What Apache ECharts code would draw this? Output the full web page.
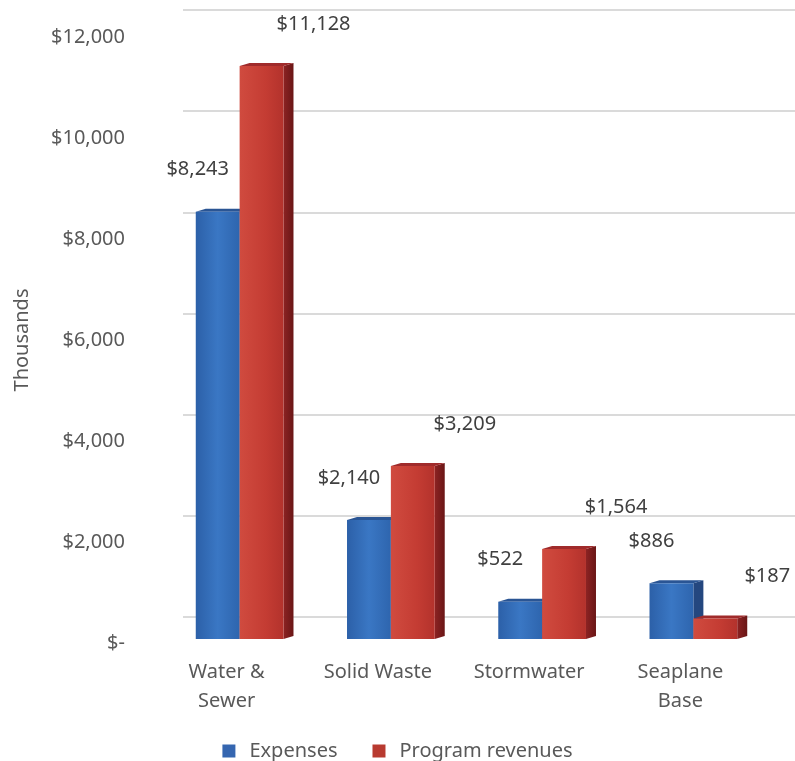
<!DOCTYPE html>
<html>
<head>
<meta charset="utf-8">
<script src="https://cdn.jsdelivr.net/npm/echarts@6/dist/echarts.min.js"></script>
<style>
  html, body { margin: 0; padding: 0; background: #fff; }
  #chart { width: 795px; height: 761px; }
</style>
</head>
<body>
<div id="chart"></div>
<script>
const categories = ['Water &\nSewer', 'Solid Waste', 'Stormwater', 'Seaplane\nBase'];
const expenses = [8243, 2140, 522, 886];
const revenues = [11128, 3209, 1564, 187];
const seriesNames = ['Expenses', 'Program revenues'];

const FONT = '"Noto Sans", sans-serif';
const TEXT = '#595959';
// 3D look: bar tops sit above the axis scale (perspective), faces offset by depth
const LIFT = 18, DX = 10, DY = 3;

const faces = [
  {
    front: new echarts.graphic.LinearGradient(0, 0, 1, 0, [
      { offset: 0, color: '#2c60a8' }, { offset: 0.5, color: '#3a77c4' }, { offset: 1, color: '#2e65ae' }]),
    side: '#24477f', top: '#2a5594'
  },
  {
    front: new echarts.graphic.LinearGradient(0, 0, 1, 0, [
      { offset: 0, color: '#d04b3f' }, { offset: 0.6, color: '#c43c33' }, { offset: 1, color: '#b3322c' }]),
    side: new echarts.graphic.LinearGradient(0, 0, 1, 0, [
      { offset: 0, color: '#8c2323' }, { offset: 1, color: '#6a1616' }]),
    top: '#a02b2b'
  }
];

const fmt = (v) => '$' + v.toLocaleString('en-US');

function renderBar(params, api) {
  const i = api.value(0);
  const v = api.value(1);
  const s = params.seriesIndex;
  const c = api.coord([i, v]);
  const c0 = api.coord([i, 0]);
  const band = api.size([1, 0])[0];
  const w = band * 0.29;
  const x0 = s === 1 ? c[0] : c[0] - w;
  const x1 = x0 + w;
  const top = c[1] - LIFT;
  const base = c0[1] - 4;
  const f = faces[s];

  // label spots, roughly where the 3D chart put them
  const lx = s === 1 ? x0 + w / 2 + 52 : x0 + w / 2 - 20;
  const ly = top - 39;

  return {
    type: 'group',
    children: [
      { type: 'polygon', shape: { points: [[x1, top + DY], [x1 + DX, top], [x1 + DX, base - DY], [x1, base]] },
        style: { fill: f.side } },
      { type: 'polygon', shape: { points: [[x0, top + DY], [x0 + DX, top], [x1 + DX, top], [x1, top + DY]] },
        style: { fill: f.top } },
      { type: 'rect', shape: { x: x0, y: top + DY, width: w, height: base - top - DY },
        style: { fill: f.front } },
      { type: 'text', x: lx, y: ly,
        style: { text: fmt(v), align: 'center', verticalAlign: 'middle',
                 font: '20px ' + FONT, fill: '#404040' } }
    ]
  };
}

const chart = echarts.init(document.getElementById('chart'));

chart.setOption({
  backgroundColor: '#fff',
  animation: false,
  grid: [
    { left: 164, right: 26, top: 37, bottom: 118 },
    { left: 183, right: 0, top: 10, bottom: 144 }   // back wall
  ],
  legend: {
    data: seriesNames,
    top: 736,
    left: 'center',
    icon: 'rect',
    itemWidth: 13,
    itemHeight: 13,
    itemGap: 35,
    textStyle: { fontFamily: FONT, fontSize: 20, color: TEXT, padding: [0, 0, 0, 9] }
  },
  xAxis: [
    {
      type: 'category',
      gridIndex: 0,
      data: categories,
      axisLine: { show: false },
      axisTick: { show: false },
      axisLabel: { fontFamily: FONT, fontSize: 20, color: TEXT, lineHeight: 29,
                   margin: 15, padding: [0, 26, 0, 0], interval: 0 }
    },
    { type: 'category', gridIndex: 1, data: categories, show: false }
  ],
  yAxis: [
    {
      type: 'value',
      gridIndex: 0,
      min: 0,
      max: 12000,
      interval: 2000,
      name: 'Thousands',
      nameLocation: 'middle',
      nameGap: 132,
      nameTextStyle: { fontFamily: FONT, fontSize: 20, color: TEXT },
      axisLine: { show: false },
      axisTick: { show: false },
      splitLine: { show: false },
      axisLabel: { fontFamily: FONT, fontSize: 20, color: TEXT, margin: 39,
                   formatter: (v) => (v === 0 ? '$-' : fmt(v)) }
    },
    {
      type: 'value',
      gridIndex: 1,
      min: 0,
      max: 12000,
      interval: 2000,
      axisLine: { show: false },
      axisTick: { show: false },
      axisLabel: { show: false },
      splitLine: { lineStyle: { color: '#dadada', width: 2 } }
    }
  ],
  series: [
    {
      name: seriesNames[0],
      type: 'custom',
      xAxisIndex: 0, yAxisIndex: 0,
      itemStyle: { color: '#3566b0' },
      renderItem: renderBar,
      encode: { x: 0, y: 1 },
      data: expenses.map((v, i) => [i, v])
    },
    {
      name: seriesNames[1],
      type: 'custom',
      xAxisIndex: 0, yAxisIndex: 0,
      itemStyle: { color: '#b83a30' },
      renderItem: renderBar,
      encode: { x: 0, y: 1 },
      data: revenues.map((v, i) => [i, v])
    }
  ]
});
</script>
</body>
</html>
